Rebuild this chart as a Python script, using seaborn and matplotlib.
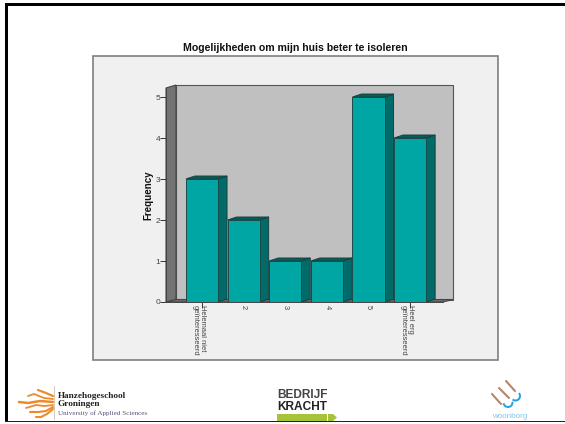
import matplotlib
matplotlib.use('Agg')
import matplotlib.pyplot as plt
import seaborn as sns
import pandas as pd
from matplotlib.patches import Polygon, Rectangle, Wedge
from matplotlib.transforms import ScaledTranslation

# Values
categories = ['Helemaal niet\ngeïnteresseerd', '2', '3', '4', '5', 'Heel erg\ngeïnteresseerd']
frequency = [3, 2, 1, 1, 5, 4]
y_ticks = [0, 1, 2, 3, 4, 5]
title = 'Mogelijkheden om mijn huis beter te isoleren'

df = pd.DataFrame({'cat': categories, 'freq': frequency})

W, H = 565, 424
DX, DY = 9, 3  # fake 3d depth in pixels

sns.set_style('white')
plt.rcParams['font.family'] = ['Liberation Sans', 'DejaVu Sans']

fig = plt.figure(figsize=(W / 100, H / 100), dpi=100, facecolor='white')

# pixel canvas for the slide and the 3d walls
bg = fig.add_axes([0, 0, 1, 1], zorder=0)
bg.set_xlim(0, W)
bg.set_ylim(H, 0)
bg.axis('off')

# slide border
bg.add_patch(Rectangle((5, 3), W - 5, 2.5, fc='black', ec='none'))
bg.add_patch(Rectangle((5, 3), 3, 419, fc='black', ec='none'))
bg.add_patch(Rectangle((5, 420.5), W - 5, 1.6, fc='#222222', ec='none'))

# chart panel
bg.add_patch(Rectangle((93, 56), 405, 304, fc='#f0f0f0', ec='#7f7f7f', lw=1.2))

# walls
bg.add_patch(Rectangle((176, 85), 277, 214.5, fc='#c0c0c0', ec='#555555', lw=0.8))
bg.add_patch(Polygon([(166, 88), (176, 85), (176, 299.5), (166, 302)], fc='#737373', ec='#444444', lw=0.8))
bg.add_patch(Polygon([(166, 302), (176, 299.5), (453, 299.5), (443, 302)], fc='#6e6e6e', ec='#444444', lw=0.8))

# front plane axes
ax = fig.add_axes([166 / W, (H - 302) / H, 277 / W, 214 / H], zorder=1)
ax.patch.set_alpha(0)
sns.barplot(data=df, x='cat', y='freq', color='#00a6a3', saturation=1, width=0.77,
            edgecolor='#1f4a48', linewidth=0.7, ax=ax)
ax.set_xlim(-0.865, 5.79)
ax.set_ylim(0, 5.22)
ax.set_yticks(y_ticks)
ax.set_xlabel('')
ax.set_ylabel('Frequency', fontsize=7, fontweight='bold', color='#111111')
ax.yaxis.set_label_coords(-0.047, 0.5)
ax.tick_params(axis='y', labelsize=6, labelcolor='#444444', color='#333333', length=4, width=0.7,
               pad=0, left=True)
ax.tick_params(axis='x', labelsize=5.4, labelcolor='#444444', color='#333333', length=4, width=0.7,
               pad=-1.5, bottom=True)
for tick in ax.xaxis.get_major_ticks():
    lab = tick.label1
    lab.set_rotation(270)
    lab.set_linespacing(1.0)
    lab.set_multialignment('left')
    if '\n' in lab.get_text():
        # two line labels sit a bit left of their tick
        lab.set_transform(lab.get_transform() + ScaledTranslation(-3 / 100, 0, fig.dpi_scale_trans))
    else:
        tick.tick1line.set_visible(False)
for side in ['top', 'right']:
    ax.spines[side].set_visible(False)
for side in ['left', 'bottom']:
    ax.spines[side].set_color('#444444')
    ax.spines[side].set_linewidth(0.7)

# sides and tops of the bars, taken from the bars seaborn drew
fig.canvas.draw()
for bar in ax.patches:
    box = bar.get_window_extent()
    x0, x1 = box.x0, box.x1
    top, bot = H - box.y1, H - box.y0
    bg.add_patch(Polygon([(x1, top), (x1 + DX, top - DY), (x1 + DX, bot - DY), (x1, bot)],
                         fc='#006b68', ec='#1f3f3e', lw=0.7))
    bg.add_patch(Polygon([(x0, top), (x0 + DX, top - DY), (x1 + DX, top - DY), (x1, top)],
                         fc='#00605c', ec='#1f3f3e', lw=0.7))

bg.text(295, 48, title, ha='center', va='center', fontsize=7.6, fontweight='bold', color='#111111')

# Hanze logo
strands = [
    ([53, 46, 38], [396, 393, 390], 1.6),
    ([53, 44, 34, 28], [399, 398, 394, 396], 1.3),
    ([53, 40, 28, 19], [402, 401, 403, 402], 1.8),
    ([53, 44, 36, 26], [405, 406, 405, 408], 1.3),
    ([53, 46, 38, 30], [407, 411, 412, 412], 1.5),
    ([53, 47, 41, 36], [409, 414, 417, 417], 1.5),
]
for xs, ys, lw in strands:
    bg.plot(xs, ys, color='#ee8a2c', lw=lw, solid_capstyle='round')
bg.plot([54, 54], [386, 419], color='#d8cdb8', lw=0.8)
bg.text(58, 396, 'Hanzehogeschool', family='Liberation Serif', fontsize=6.7, fontweight='bold',
        va='center', color='#222222')
bg.text(58, 404.5, 'Groningen', family='Liberation Serif', fontsize=6.7, fontweight='bold',
        va='center', color='#222222')
bg.text(58, 413, 'University of Applied Sciences', family='Liberation Serif', fontsize=5.1,
        va='center', color='#555577')

# Bedrijfkracht logo
bg.text(277, 395.5, 'BEDRIJF', fontsize=8.6, fontweight='bold', va='center', color='#444444')
bg.text(277, 406.5, 'KRACHT', fontsize=8.6, fontweight='bold', va='center', color='#222222')
bg.add_patch(Rectangle((277, 414), 50, 7, fc='#a5c43a', ec='none'))
bg.add_patch(Polygon([(328, 414), (333, 414), (337, 417.5), (333, 421), (328, 421)], fc='#a5c43a', ec='none'))

# Woonborg logo
for (x0, y0, x1, y1) in [(492, 394, 501, 404), (499, 388, 509, 398), (506, 381, 515, 391)]:
    bg.plot([x0, x1], [y0, y1], color='#b5856c', lw=1.5, solid_capstyle='round')
bg.add_patch(Wedge((508, 402.5), 5.5, -10, 170, width=2, fc='#2d9fe0', ec='none'))
bg.add_patch(Wedge((515.5, 396), 5.5, -40, 130, width=2, fc='#2d9fe0', ec='none'))
bg.text(510, 417, 'woonborg', ha='center', va='center', fontsize=5.8, color='#7fc4ee')

fig.savefig('out.png', dpi=100)
